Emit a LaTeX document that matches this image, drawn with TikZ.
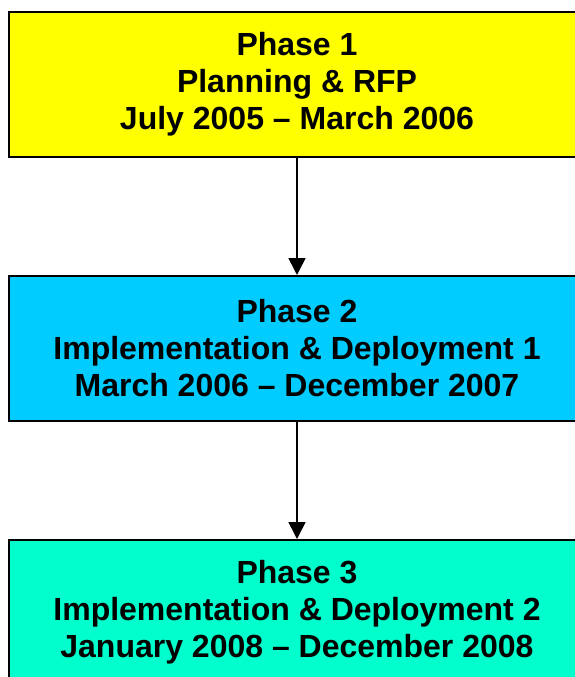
\documentclass[tikz,border=0pt]{standalone}
\usepackage{fontspec}
\setmainfont{Liberation Sans}
\usetikzlibrary{arrows.meta}
\definecolor{phaseyellow}{HTML}{FFFF00}
\definecolor{phaseblue}{HTML}{00CCFF}
\definecolor{phaseteal}{HTML}{00FFCC}
\begin{document}
\begin{tikzpicture}[x=1pt, y=1pt,
    phase/.style={rectangle, draw, line width=2pt, minimum width=576pt, minimum height=145pt,
        align=center, font=\fontsize{32}{37}\selectfont\bfseries, inner sep=0pt},
    level distance=264pt,
    edge from parent/.style={draw, line width=1.6pt, -{Triangle[length=17pt,width=17pt]}}]
    \useasboundingbox (0,0) rectangle (575,-677);
    \node [phase, fill=phaseyellow] (a) at (297,-84.5) {Phase 1\\Planning \& RFP\\July 2005 -- March 2006}
        child {
            node [phase, fill=phaseblue] (b) {Phase 2\\Implementation \& Deployment 1\\March 2006 -- December 2007}
                child {
                    node [phase, fill=phaseteal] (c) {Phase 3\\Implementation \& Deployment 2\\January 2008 -- December 2008}
                }
        };
\end{tikzpicture}
\end{document}
